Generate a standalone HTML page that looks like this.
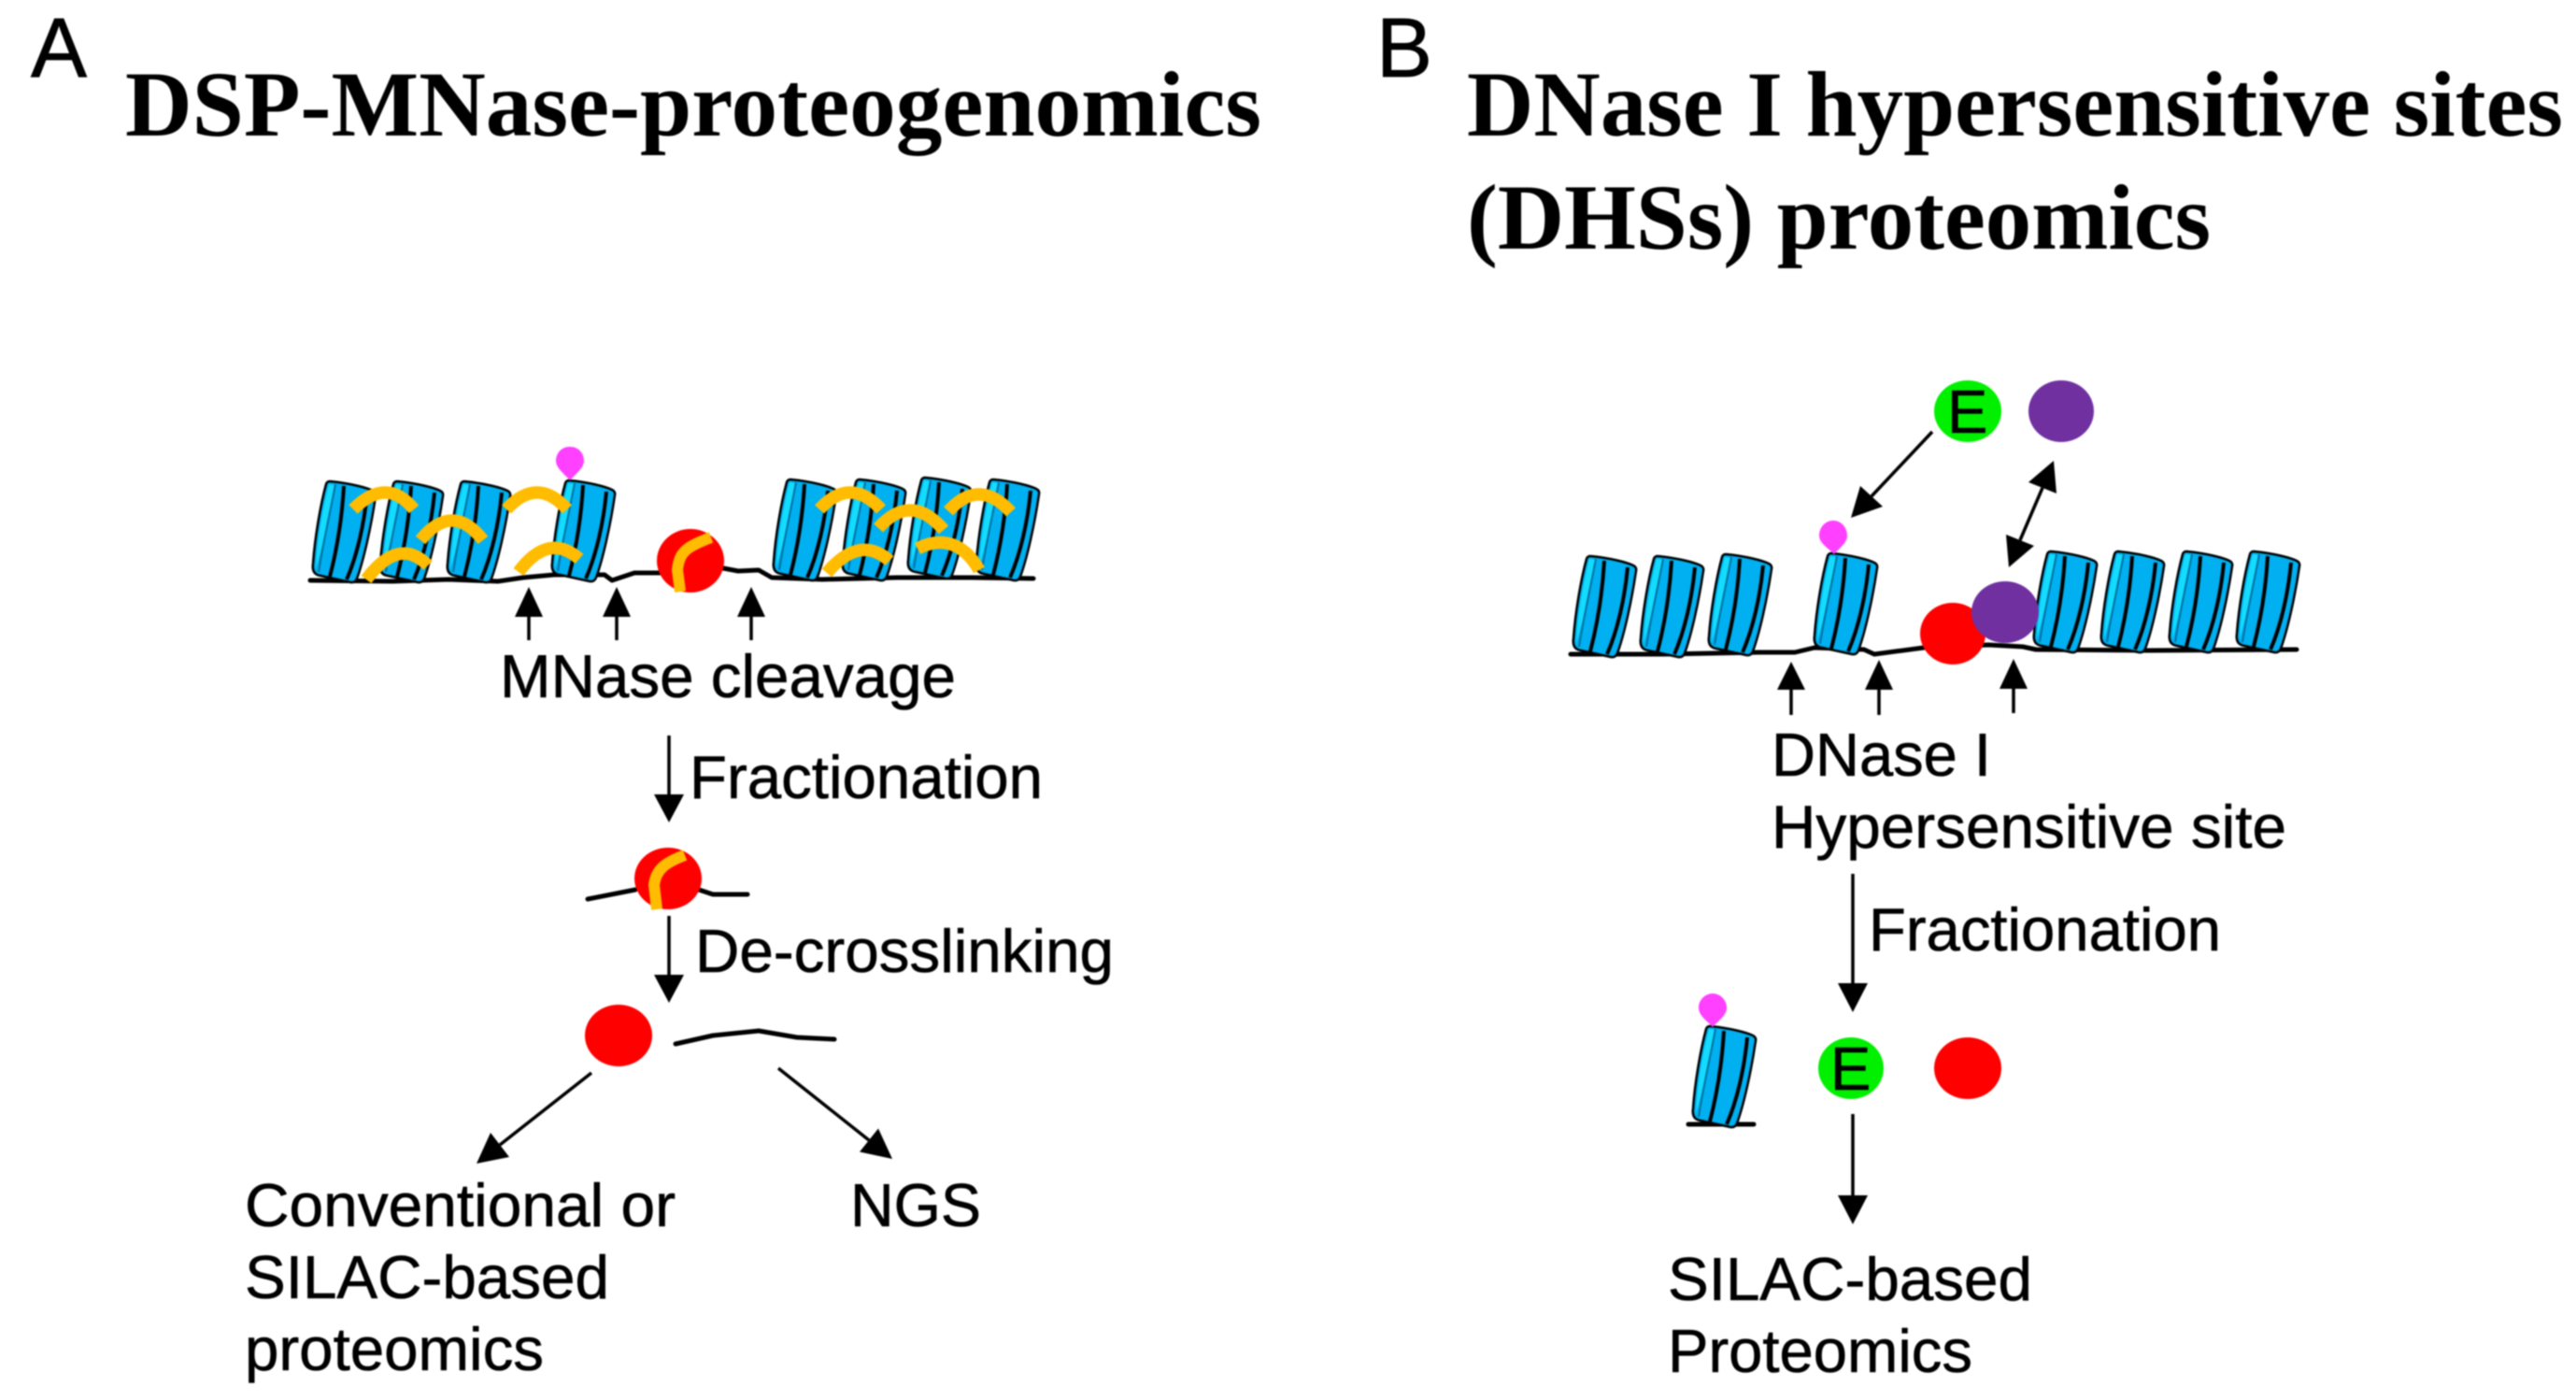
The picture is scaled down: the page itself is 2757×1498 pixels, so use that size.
<!DOCTYPE html>
<html><head><meta charset="utf-8">
<style>
html,body{margin:0;padding:0;background:#fff;width:2757px;height:1498px;overflow:hidden}
svg{display:block;filter:blur(.9px)}
.t{font-family:"Liberation Sans",sans-serif;font-size:65px;fill:#000;stroke:#000;stroke-width:.6}
.h{font-family:"Liberation Serif",serif;font-weight:bold;font-size:100px;fill:#000}
.l{font-family:"Liberation Sans",sans-serif;font-size:90px;fill:#000;stroke:#000;stroke-width:.8}
.a{stroke:#000;stroke-width:3.5;fill:none}
.d{stroke:#000;stroke-width:5;fill:none;stroke-linejoin:round;stroke-linecap:round}
.o{stroke:#FFBC00;stroke-width:13.5;fill:none}
</style></head><body>
<svg width="2757" height="1498" viewBox="0 0 2757 1498" xmlns="http://www.w3.org/2000/svg">
<defs>
<g id="n">
<path d="M18,0 C40,2 58,7 64,10 Q68,12 67,16 C62,50 54,85 47,104 Q45,109 40,108 L8,101 C1,100 -1,95 0,88 C2,60 8,25 14,3 Q15,0 18,0 Z" fill="#00B0F0" stroke="#000" stroke-width="2.5"/>
<path d="M17,3 C10,30 4,65 3,94 C10,70 19,30 24,4 Z" fill="#14DCFF"/>
<path d="M33,5 C31,40 25,75 18,102 M58,12 C55,45 47,80 36,105" fill="none" stroke="#000" stroke-width="4"/>
<path d="M24,3 C18,35 10,70 6,97" fill="none" stroke="#0070A0" stroke-width="2"/>
</g>
</defs>
<rect width="2757" height="1498" fill="#fff"/>

<!-- Titles -->
<text class="l" x="33" y="82">A</text>
<text class="l" x="1473" y="82">B</text>
<text class="h" x="134" y="145" textLength="1216" lengthAdjust="spacingAndGlyphs">DSP-MNase-proteogenomics</text>
<text class="h" x="1570" y="145" textLength="1173" lengthAdjust="spacingAndGlyphs">DNase I hypersensitive sites</text>
<text class="h" x="1570" y="266" textLength="796" lengthAdjust="spacingAndGlyphs">(DHSs) proteomics</text>

<!-- Panel A chromatin -->
<path class="d" d="M332,621 L420,622 L480,620 L533,622 L560,618 L593,615 L647,615 L655,621 L679,613 L706,613 L774,608 L790,611 L812,610 L826,618 L880,620 L960,618 L1040,618 L1106,619"/>
<use href="#n" x="335" y="515"/><use href="#n" x="407" y="515"/><use href="#n" x="479" y="515"/><use href="#n" x="591" y="514"/>
<use href="#n" x="828" y="513"/><use href="#n" x="902" y="513"/><use href="#n" x="972" y="511"/><use href="#n" x="1045" y="513"/>
<path d="M610,478 C600,478 595,486 595,493 C595,501 604,507 610,514 C616,507 625,501 625,493 C625,486 620,478 610,478 Z" fill="#FF40FF"/>
<ellipse cx="739" cy="600" rx="36" ry="34" fill="#FF0000"/>
<path class="o" style="stroke-width:12" d="M761,575 C735,585 727,590 725,610 L728,633"/>
<path class="o" d="M378,545 Q414,509 443,545"/>
<path class="o" d="M450,578 Q484,536 517,578"/>
<path class="o" d="M392,620 Q427,573.500 458,605"/>
<path class="o" d="M542,545 Q575,509 607,545"/>
<path class="o" d="M555,612 Q587,569 620,598"/>
<path class="o" d="M877,545 Q910,509 943,545"/>
<path class="o" d="M940,565 Q975,526 1010,567"/>
<path class="o" d="M1015,547 Q1048,510.500 1082,548"/>
<path class="o" d="M885,613 Q920,571.500 952,600"/>
<path class="o" d="M982,587 C1005,575 1030,578 1048,610"/>
<path class="a" d="M566,658 V685 M660,658 V685 M804,658 V685"/>
<polygon points="566,628 551,660 581,660"/><polygon points="660,628 645,660 675,660"/><polygon points="804,628 789,660 819,660"/>
<text class="t" x="535" y="746" textLength="488" lengthAdjust="spacingAndGlyphs">MNase cleavage</text>

<!-- Panel A flow -->
<path class="a" d="M716,787 V852"/><polygon points="716,880 700,850 732,850"/>
<text class="t" x="738" y="854" textLength="378" lengthAdjust="spacingAndGlyphs">Fractionation</text>
<path class="d" d="M629,962 L680,952 M748,952 L763,957 L800,957"/>
<ellipse cx="715" cy="940" rx="36" ry="33" fill="#FF0000"/>
<path class="o" style="stroke-width:12" d="M733,915 C712,923 702,930 700,947 L703,973"/>
<path class="a" d="M716,980 V1045"/><polygon points="716,1073 700,1043 732,1043"/>
<text class="t" x="744" y="1040" textLength="448" lengthAdjust="spacingAndGlyphs">De-crosslinking</text>
<ellipse cx="662" cy="1108" rx="36" ry="33" fill="#FF0000"/>
<path class="d" d="M723,1117 L763,1108 L812,1103 L853,1110 L893,1112"/>
<path class="a" d="M633,1148 L535,1225"/><polygon points="510,1245 545,1238 525,1212"/>
<path class="a" d="M833,1143 L930,1220"/><polygon points="955,1240 920,1232.500 940,1207.500"/>
<text class="t" x="262" y="1312" textLength="461" lengthAdjust="spacingAndGlyphs">Conventional or</text>
<text class="t" x="262" y="1389" textLength="390" lengthAdjust="spacingAndGlyphs">SILAC-based</text>
<text class="t" x="262" y="1466" textLength="320" lengthAdjust="spacingAndGlyphs">proteomics</text>
<text class="t" x="910" y="1312" textLength="140" lengthAdjust="spacingAndGlyphs">NGS</text>

<!-- Panel B chromatin -->
<path class="d" d="M1681,700 L1780,700 L1883,698 L1921,698 L1942,693 L1995,695 L2006,700 L2059,693 L2128,690 L2165,692 L2179,695 L2300,696 L2458,695"/>
<use href="#n" x="1684" y="595"/><use href="#n" x="1756" y="595"/><use href="#n" x="1829" y="593"/><use href="#n" x="1942" y="592"/>
<use href="#n" x="2177" y="590"/><use href="#n" x="2249" y="590"/><use href="#n" x="2322" y="590"/><use href="#n" x="2394" y="590"/>
<path d="M1962,557 C1953,557 1947,565 1947,573 C1947,581 1956,586 1963,593 C1969,586 1977,581 1977,573 C1977,565 1971,557 1962,557 Z" fill="#FF40FF"/>
<ellipse cx="2090" cy="678" rx="35" ry="33" fill="#FF0000"/>
<ellipse cx="2146" cy="655" rx="36" ry="33" fill="#7030A0"/>
<ellipse cx="2106" cy="440" rx="36" ry="33" fill="#00F000"/>
<text class="t" x="2084" y="463">E</text>
<ellipse cx="2206" cy="440" rx="35" ry="33" fill="#7030A0"/>
<path class="a" d="M2068,462 L2003,531"/><polygon points="1981,554 2015,542 1991,520"/>
<path class="a" d="M2186,522 L2162,578"/><polygon points="2198,493 2201,528 2171,516"/><polygon points="2150,607 2177,584 2147,572"/>
<path class="a" d="M1917,736 V765 M2011,736 V765 M2155,734 V763"/>
<polygon points="1917,708 1902,738 1932,738"/><polygon points="2011,706 1996,738 2026,738"/><polygon points="2155,705 2140,737 2170,737"/>
<text class="t" x="1896" y="830" textLength="235" lengthAdjust="spacingAndGlyphs">DNase I</text>
<text class="t" x="1896" y="907" textLength="551" lengthAdjust="spacingAndGlyphs">Hypersensitive site</text>

<!-- Panel B flow -->
<path class="a" d="M1983,935 V1054"/><polygon points="1983,1083 1967,1052 1999,1052"/>
<text class="t" x="2000" y="1017" textLength="377" lengthAdjust="spacingAndGlyphs">Fractionation</text>
<path class="d" d="M1807,1203 L1877,1203"/>
<use href="#n" x="1812" y="1098"/>
<path d="M1833,1063 C1825,1063 1818,1070 1818,1078 C1818,1087 1827,1092 1833,1099 C1839,1092 1848,1087 1848,1078 C1848,1070 1841,1063 1833,1063 Z" fill="#FF40FF"/>
<ellipse cx="1981" cy="1143" rx="35" ry="33" fill="#00F000"/>
<text class="t" x="1959" y="1166">E</text>
<ellipse cx="2106" cy="1143" rx="36" ry="33" fill="#FF0000"/>
<path class="a" d="M1983,1192 V1281"/><polygon points="1983,1310 1967,1279 1999,1279"/>
<text class="t" x="1785" y="1391" textLength="390" lengthAdjust="spacingAndGlyphs">SILAC-based</text>
<text class="t" x="1785" y="1468" textLength="326" lengthAdjust="spacingAndGlyphs">Proteomics</text>
</svg>
</body></html>
